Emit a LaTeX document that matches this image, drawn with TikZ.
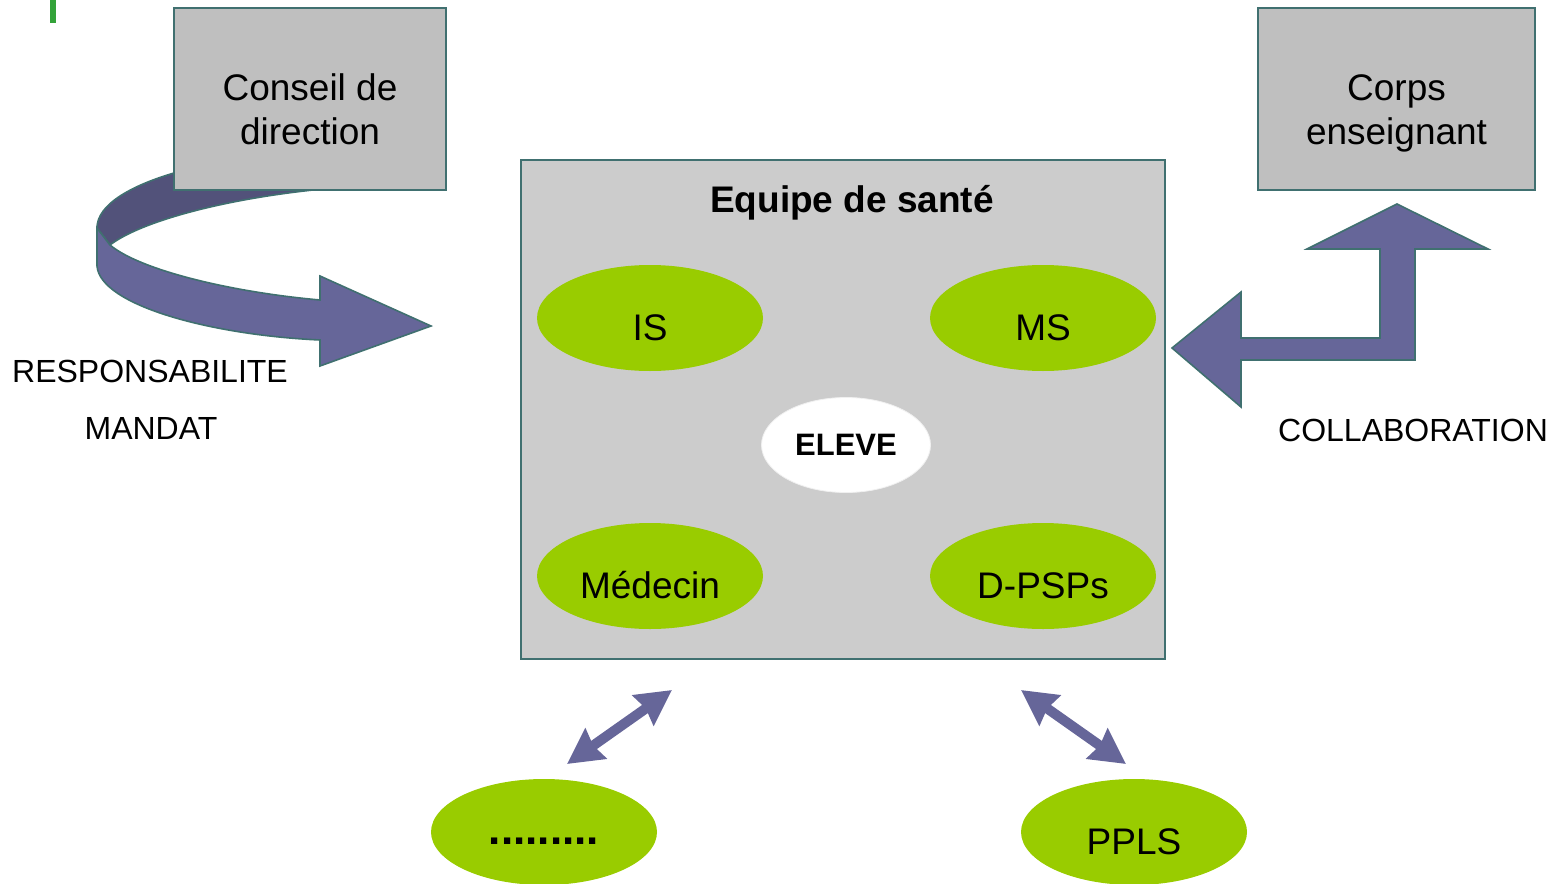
\documentclass[tikz,border=0pt]{standalone}
\usepackage{fontspec}
\setmainfont{Liberation Sans}
\usetikzlibrary{shapes.geometric,arrows.meta}

\definecolor{boxgray}{RGB}{191,191,191}
\definecolor{teamgray}{RGB}{204,204,204}
\definecolor{edgeteal}{RGB}{64,112,112}
\definecolor{limegreen}{RGB}{153,204,0}
\definecolor{arrowblue}{RGB}{102,102,153}
\definecolor{arrowdark}{RGB}{82,82,122}
\definecolor{bargreen}{RGB}{51,163,58}

\begin{document}
\begin{tikzpicture}[x=0.5pt,y=-0.5pt,
  graybox/.style={draw=edgeteal,line width=1pt,fill=boxgray,minimum width=136pt,minimum height=91pt,align=center,text height=45pt,text depth=0pt,font=\fontsize{18.5}{21.5}\selectfont},
  member/.style={ellipse,fill=limegreen,minimum width=113pt,minimum height=53pt,inner sep=0pt,text height=22pt,text depth=0pt,font=\fontsize{18.5}{22}\selectfont},
  bigarrow/.style={fill=arrowblue,draw=edgeteal,line width=0.8pt,line join=miter},
  link/.style={arrowblue,line width=5pt,{Stealth[length=17.5pt,width=18pt,inset=1.5pt]}-{Stealth[length=17.5pt,width=18pt,inset=1.5pt]}},
  sidetext/.style={font=\fontsize{16}{18}\selectfont}]

\useasboundingbox (0,0) rectangle (1556,883);
\fill[bargreen] (50,0) rectangle (56,23);

\draw[bigarrow,fill=arrowdark] (174,173) .. controls (130,186) and (97,205) .. (97,228) -- (110,245) .. controls (140,222) and (220,200) .. (313,190) -- (174,190) -- cycle;
\draw[bigarrow] (97,228) -- (97,266) .. controls (100,305) and (210,335) .. (320,340) -- (320,366) -- (431,326) -- (320,276) -- (320,300) .. controls (230,292) and (140,270) .. (110,245) -- cycle;
\node[graybox] (conseil) at (310,99) {Conseil de\\direction};
\node[graybox,minimum width=138.5pt] (corps) at (1396.5,99) {Corps\\enseignant};

\draw[bigarrow] (1172,348) -- (1241,292) -- (1241,338) -- (1380,338) -- (1380,249) -- (1307,249) -- (1397,204) -- (1488,249) -- (1415,249) -- (1415,360) -- (1241,360) -- (1241,407) -- cycle;

\node[sidetext] (resp) at (150,371) {RESPONSABILITE};
\node[sidetext] (mandat) at (151,428) {MANDAT};
\node[sidetext] (collab) at (1413,430) {COLLABORATION};

\node[draw=edgeteal,line width=1pt,fill=teamgray,minimum width=322pt,minimum height=249.5pt] (equipe) at (843,409.5) {};
\node[font=\bfseries\fontsize{18.5}{22}\selectfont] (titre) at (852,203) {Equipe de santé};
\node[member] (is) at (650,318) {IS};
\node[member] (ms) at (1043,318) {MS};
\node[member] (medecin) at (650,576) {Médecin};
\node[member] (dpsp) at (1043,576) {D-PSPs};
\node[ellipse,fill=white,draw=gray!12,minimum width=84.5pt,minimum height=47.5pt,font=\bfseries\fontsize{15.5}{18}\selectfont] (eleve) at (846,445) {ELEVE};

\node[member,text height=12pt,font=\bfseries\fontsize{22}{24}\selectfont] (autres) at (544,832) {.........};
\node[member] (ppls) at (1134,832) {PPLS};

\coordinate (autresend) at (567,764);
\coordinate (equipeleft) at (672,690);
\coordinate (equiperight) at (1021,690);
\coordinate (pplsend) at (1126,764);
\draw[link] (autresend) -- (equipeleft);
\draw[link] (equiperight) -- (pplsend);
\end{tikzpicture}
\end{document}
